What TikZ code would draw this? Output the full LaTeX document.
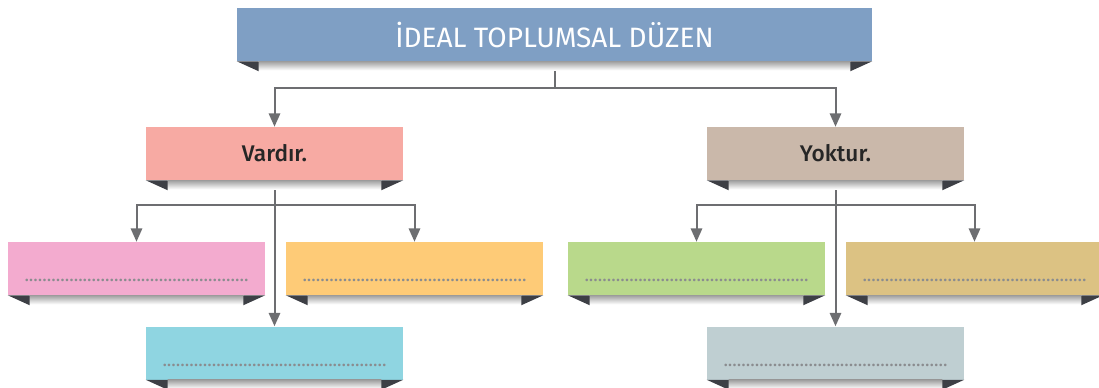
\documentclass[tikz,border=0pt]{standalone}
\usepackage{fontspec}
\setmainfont{Fira Sans}[BoldFont={Fira Sans Medium}]
\usepackage{xcolor}
\usetikzlibrary{arrows.meta,positioning,calc}

\definecolor{titleblue}{HTML}{7F9FC4}
\definecolor{varpink}{HTML}{F7AAA3}
\definecolor{yoktan}{HTML}{CAB8AA}
\definecolor{boxpink}{HTML}{F3ABCF}
\definecolor{boxorange}{HTML}{FECB77}
\definecolor{boxgreen}{HTML}{B9D98B}
\definecolor{boxsand}{HTML}{DCC283}
\definecolor{boxcyan}{HTML}{8FD5E1}
\definecolor{boxgrey}{HTML}{BFCFD2}
\definecolor{foldgrey}{HTML}{3D3F45}
\definecolor{linegrey}{HTML}{6D6E71}
\definecolor{dotgrey}{HTML}{8A8C8F}

\tikzset{
  card/.style={rectangle,inner sep=0pt,minimum width=192.75pt,minimum height=39.75pt},
  head/.style={card,text=black!85,font=\fontsize{17}{17}\selectfont\bfseries},
  blank/.style={card,text=dotgrey,font=\fontsize{14}{14}\selectfont},
  link/.style={linegrey,line width=1.5pt,-{Triangle[width=8.5pt,length=10pt]}},
}

% ribbon fold under a card
\newcommand{\fold}[1]{%
  \shade[top color=black!38,bottom color=white]
    ($(#1.south west)+(22,0)$) rectangle ($(#1.south east)+(-22,9)$);
  \fill[foldgrey] (#1.south west) -- ++(22,0) -- ++(0,10) -- cycle;
  \fill[foldgrey] (#1.south east) -- ++(-22,0) -- ++(0,10) -- cycle;
}
\newcommand{\dotrow}{\raisebox{-10pt}[0pt][0pt]{..................................................}}

\begin{document}
\begin{tikzpicture}[x=0.75pt,y=-0.75pt]
  \useasboundingbox (0,0) rectangle (1099,387);

  \node[card,fill=titleblue,minimum width=476.25pt,text=white,
        font=\fontsize{21}{21}\selectfont] (ideal) at (554.5,34.5) {İDEAL TOPLUMSAL DÜZEN};

  \node[head,fill=varpink] (var) at (274.5,153.5) {Vardır.};
  \node[head,fill=yoktan] (yok) at (835.5,153.5) {Yoktur.};

  \node[blank,fill=boxpink] (v1) at (136.5,268.5) {\dotrow};
  \node[blank,fill=boxorange] (v2) at (414.5,268.5) {\dotrow};
  \node[blank,fill=boxcyan] (v3) at (274.5,353) {\dotrow};
  \node[blank,fill=boxgreen] (y1) at (696.5,268.5) {\dotrow};
  \node[blank,fill=boxsand] (y2) at (974.5,268.5) {\dotrow};
  \node[blank,fill=boxgrey] (y3) at (835.5,353) {\dotrow};

  % connectors
  \draw[link] (ideal.south) -- ++(0,27) -| (var.north);
  \draw[link] (ideal.south) -- ++(0,27) -| (yok.north);
  \draw[link] (var.south) -- ++(0,25) -| (v1.north);
  \draw[link] (var.south) -- ++(0,25) -| (v2.north);
  \draw[link] (var.south) -- (v3.north);
  \draw[link] (yok.south) -- ++(0,25) -| (y1.north);
  \draw[link] (yok.south) -- ++(0,25) -| (y2.north);
  \draw[link] (yok.south) -- (y3.north);

  \foreach \c in {ideal,var,yok,v1,v2,v3,y1,y2,y3} {\fold{\c}}
\end{tikzpicture}
\end{document}
